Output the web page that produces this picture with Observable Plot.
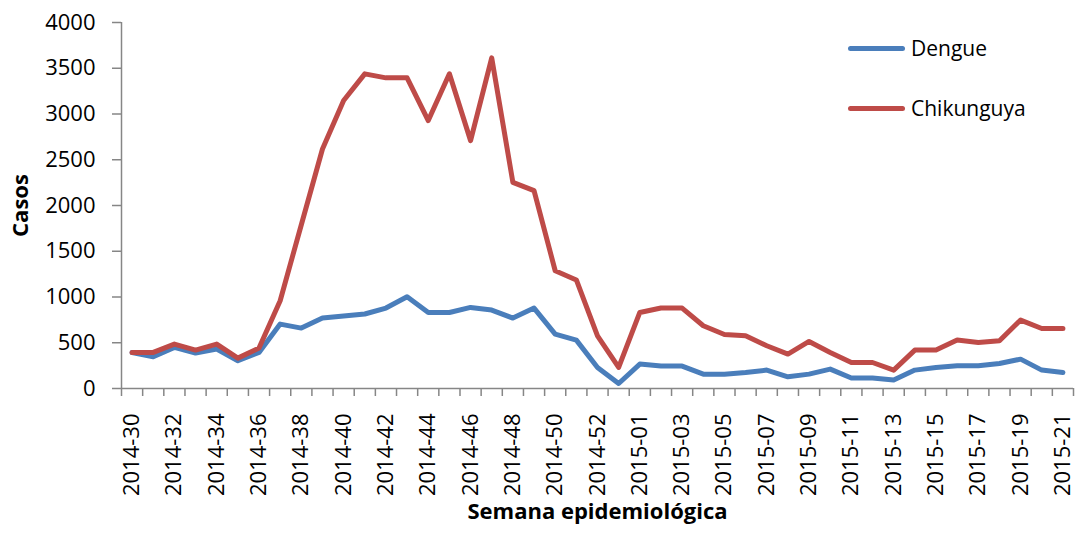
<!DOCTYPE html>
<html>
<head>
<meta charset="utf-8">
<script src="https://cdn.jsdelivr.net/npm/d3@7"></script>
<script src="https://cdn.jsdelivr.net/npm/@observablehq/plot@0.6"></script>
<style>
  body { margin: 0; background: white; }
  #wrap { position: relative; width: 1078px; height: 533px; font-family: "Open Sans", sans-serif; }
  .leg { position: absolute; left: 848px; height: 30px; display: flex; align-items: center; font-size: 21px; color: #000; }
  .sw { width: 57px; height: 5px; border-radius: 3px; margin-right: 6px; }
</style>
</head>
<body>
<div id="wrap">
  <div class="leg" style="top:33px"><span class="sw" style="background:#4A7EBB"></span><span>Dengue</span></div>
  <div class="leg" style="top:93px"><span class="sw" style="background:#BE4B48"></span><span>Chikunguya</span></div>
</div>
<script>
const weeks = [
  "2014-30","2014-31","2014-32","2014-33","2014-34","2014-35","2014-36","2014-37","2014-38","2014-39",
  "2014-40","2014-41","2014-42","2014-43","2014-44","2014-45","2014-46","2014-47","2014-48","2014-49",
  "2014-50","2014-51","2014-52","2014-53",
  "2015-01","2015-02","2015-03","2015-04","2015-05","2015-06","2015-07","2015-08","2015-09","2015-10",
  "2015-11","2015-12","2015-13","2015-14","2015-15","2015-16","2015-17","2015-18","2015-19","2015-20","2015-21"
];
const dengue = [394,347,449,387,431,303,394,704,660,770,792,814,879,1003,831,831,886,857,770,879,
  595,529,230,55,267,245,245,157,157,175,201,128,157,212,114,114,92,201,230,248,248,273,321,201,175];
const chikungunya = [394,394,485,420,485,332,442,959,1790,2618,3147,3439,3395,3395,2928,3439,2709,3614,2253,2162,
  1287,1186,576,230,831,879,879,686,590,576,467,376,514,394,284,284,201,420,420,529,503,522,748,656,656];
const yTicks = [0,500,1000,1500,2000,2500,3000,3500,4000];

const idx = weeks.map((w, i) => i);
const boundaries = d3.range(-0.5, weeks.length, 1);
const labelIdx = idx.filter(i => i % 2 === 0);
const xDomain = [-0.5, weeks.length - 0.5];
const dData = weeks.map((w, i) => ({i, v: dengue[i]}));
const cData = weeks.map((w, i) => ({i, v: chikungunya[i]}));
const axisColor = "#868686";

const chart = Plot.plot({
  width: 1078, height: 533,
  marginLeft: 121, marginRight: 5, marginTop: 22, marginBottom: 145,
  x: {type: "linear", domain: xDomain},
  y: {domain: [0, 4000]},
  style: {fontFamily: "Open Sans, sans-serif", fontSize: "22px", color: "#000", background: "white"},
  marks: [
    Plot.axisY(yTicks, {tickSize: 9, tickPadding: 17, stroke: axisColor, strokeWidth: 1.5, label: null, tickFormat: d => String(d)}),
    Plot.axisX(boundaries, {tickSize: 8, stroke: axisColor, strokeWidth: 1.5, label: null, tickFormat: () => ""}),
    Plot.axisX(labelIdx, {tickSize: 0, tickRotate: -90, tickPadding: 25, label: null, tickFormat: i => weeks[i]}),
    Plot.ruleY([0], {stroke: axisColor, strokeWidth: 1.5}),
    Plot.ruleX([xDomain[0]], {stroke: axisColor, strokeWidth: 1.5}),
    Plot.line(dData, {x: "i", y: "v", stroke: "#4A7EBB", strokeWidth: 5, strokeLinejoin: "round"}),
    Plot.line(cData, {x: "i", y: "v", stroke: "#BE4B48", strokeWidth: 5, strokeLinejoin: "round"}),
    Plot.text(["Casos"], {frameAnchor: "left", dx: -101, rotate: -90, textAnchor: "middle", fontWeight: "bold", fontSize: 22, text: d => d}),
    Plot.text(["Semana epidemiológica"], {frameAnchor: "bottom", dy: 130, textAnchor: "middle", fontWeight: "bold", fontSize: 22, text: d => d})
  ]
});
document.getElementById("wrap").prepend(chart);
</script>
</body>
</html>
